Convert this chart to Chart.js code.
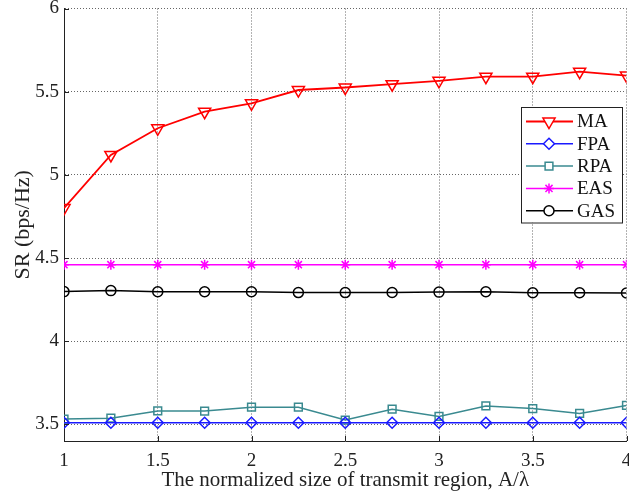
<!DOCTYPE html>
<html>
<head>
<meta charset="utf-8">
<script src="https://cdn.jsdelivr.net/npm/chart.js@4"></script>
<style>
  html, body { margin: 0; padding: 0; background: #fff; overflow: hidden; }
  /* a few px wider than the window so the plot runs up to the right edge */
  #wrap { width: 635px; height: 501px; position: relative; }
</style>
</head>
<body>
<div id="wrap"><canvas id="chart"></canvas></div>
<script>
// normalized transmit region size A/lambda
const xValues = [1, 1.25, 1.5, 1.75, 2, 2.25, 2.5, 2.75, 3, 3.25, 3.5, 3.75, 4];

// SR (bps/Hz) per scheme
const maValues  = [4.80, 5.12, 5.28, 5.38, 5.43, 5.51, 5.525, 5.545, 5.565, 5.59, 5.59, 5.62, 5.597];
const fpaValues = [3.51, 3.51, 3.51, 3.51, 3.51, 3.51, 3.51, 3.51, 3.51, 3.51, 3.51, 3.51, 3.51];
const rpaValues = [3.532, 3.537, 3.581, 3.580, 3.603, 3.603, 3.526, 3.591, 3.548, 3.611, 3.595, 3.566, 3.614];
const easValues = [4.46, 4.46, 4.46, 4.46, 4.46, 4.46, 4.46, 4.46, 4.46, 4.46, 4.46, 4.46, 4.46];
const gasValues = [4.298, 4.304, 4.297, 4.297, 4.297, 4.292, 4.292, 4.293, 4.295, 4.297, 4.291, 4.291, 4.290];

const xTicks = [1, 1.5, 2, 2.5, 3, 3.5, 4];
const yTicks = [3.5, 4, 4.5, 5, 5.5, 6];

const FONT = '"Liberation Serif", "Times New Roman", serif';

const toPoints = vals => xValues.map((x, i) => ({ x: x, y: vals[i] }));

const series = [
  { label: 'MA',  data: maValues,  color: '#ff0000', style: 'triangle', rot: 180, r: 7,   lw: 1.8 },
  { label: 'FPA', data: fpaValues, color: '#1a1aff', style: 'rectRot',  rot: 0,   r: 5.5, lw: 1.5 },
  { label: 'RPA', data: rpaValues, color: '#3a8a90', style: 'rect',     rot: 0,   r: 5.5, lw: 1.5 },
  { label: 'EAS', data: easValues, color: '#ff00ff', style: 'star',     rot: 0,   r: 5,   lw: 1.5 },
  { label: 'GAS', data: gasValues, color: '#000000', style: 'circle',   rot: 0,   r: 5,   lw: 1.5 },
];

// legend with line + marker, drawn inside the plot like MATLAB
const boxLegend = {
  id: 'boxLegend',
  afterDraw(chart) {
    const ctx = chart.ctx;
    const left = 521, top = 107, w = 101, rowH = 22.3;
    ctx.save();
    ctx.fillStyle = '#fff';
    ctx.fillRect(left, top, w, rowH * 5 + 4);
    ctx.strokeStyle = '#222';
    ctx.lineWidth = 1;
    ctx.strokeRect(left + 0.5, top + 0.5, w, rowH * 5 + 4);
    series.forEach((s, i) => {
      const y = top + 14.5 + i * rowH;
      ctx.strokeStyle = s.color;
      ctx.lineWidth = s.lw;
      ctx.beginPath();
      ctx.moveTo(left + 5, y);
      ctx.lineTo(left + 52, y);
      ctx.stroke();
      ctx.fillStyle = '#fff';
      ctx.lineWidth = 1.5;
      Chart.helpers.drawPoint(ctx, { pointStyle: s.style, rotation: s.rot, radius: s.r, borderWidth: 1.5 }, left + 28, y);
      ctx.fillStyle = '#111';
      ctx.font = '19px ' + FONT;
      ctx.textBaseline = 'middle';
      ctx.fillText(s.label, left + 56, y + 1);
    });
    ctx.restore();
  }
};

// inward tick marks
const inTicks = {
  id: 'inTicks',
  afterDatasetsDraw(chart) {
    const ctx = chart.ctx;
    const { x, y } = chart.scales;
    const a = chart.chartArea;
    ctx.save();
    ctx.strokeStyle = '#222';
    ctx.lineWidth = 1;
    xTicks.forEach(v => {
      const px = Math.round(x.getPixelForValue(v)) + 0.5;
      ctx.beginPath(); ctx.moveTo(px, a.bottom); ctx.lineTo(px, a.bottom - 5); ctx.stroke();
    });
    yTicks.forEach(v => {
      const py = Math.round(y.getPixelForValue(v)) + 0.5;
      ctx.beginPath(); ctx.moveTo(a.left, py); ctx.lineTo(a.left + 5, py); ctx.stroke();
    });
    ctx.restore();
  }
};

new Chart(document.getElementById('chart'), {
  type: 'line',
  data: {
    datasets: series.map(s => ({
      label: s.label,
      data: toPoints(s.data),
      borderColor: s.color,
      backgroundColor: '#fff',
      borderWidth: s.lw,
      pointStyle: s.style,
      pointRotation: s.rot,
      pointRadius: s.r,
      pointBorderWidth: 1.5,
      pointBorderColor: s.color,
      pointBackgroundColor: 'rgba(255,255,255,0)',
      tension: 0,
    })),
  },
  options: {
    responsive: true,
    maintainAspectRatio: false,
    animation: false,
    layout: { padding: { top: 8, right: 2, left: 0, bottom: 0 } },
    plugins: {
      legend: { display: false },
      tooltip: { enabled: false },
    },
    scales: {
      x: {
        type: 'linear',
        min: 1,
        max: 4,
        afterBuildTicks: scale => { scale.ticks = xTicks.map(v => ({ value: v })); },
        afterFit: scale => { scale.height = 60; scale.paddingLeft = 0; scale.paddingRight = 0; },
        ticks: {
          color: '#222',
          font: { family: FONT, size: 19 },
          padding: 9,
          maxRotation: 0,
          callback: v => String(v),
        },
        grid: { color: '#666', lineWidth: 1, drawTicks: false },
        border: { display: true, color: '#222', width: 1, dash: [1, 2] },
        title: {
          display: true,
          text: 'The normalized size of transmit region, A/λ',
          color: '#222',
          font: { family: FONT, size: 21 },
          padding: { top: 0, bottom: 8 },
        },
      },
      y: {
        type: 'linear',
        min: 3.4,
        max: 6,
        afterBuildTicks: scale => { scale.ticks = yTicks.map(v => ({ value: v })); },
        afterFit: scale => { scale.width = 64; scale.paddingTop = 0; scale.paddingBottom = 0; },
        ticks: {
          color: '#222',
          font: { family: FONT, size: 19 },
          padding: 5,
          callback: v => String(v),
        },
        grid: { color: '#666', lineWidth: 1, drawTicks: false },
        border: { display: true, color: '#222', width: 1, dash: [1, 2] },
        title: {
          display: true,
          text: 'SR (bps/Hz)',
          color: '#222',
          font: { family: FONT, size: 22 },
          padding: { top: 10, bottom: 0 },
        },
      },
    },
  },
  plugins: [inTicks, boxLegend],
});
</script>
</body>
</html>
